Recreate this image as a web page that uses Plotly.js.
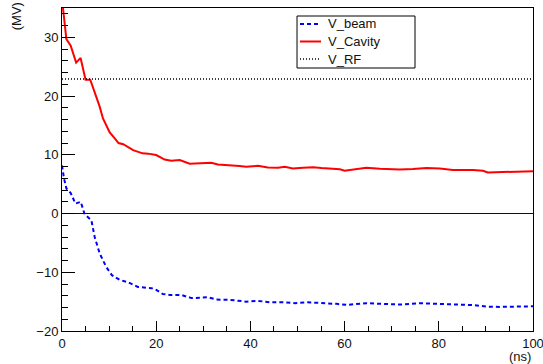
<!DOCTYPE html>
<html>
<head>
<meta charset="utf-8">
<script src="https://cdn.plot.ly/plotly-3.0.1.min.js"></script>
<style>html,body{margin:0;padding:0;background:#fff;}#chart{width:543px;height:364px;}</style>
</head>
<body>
<div id="chart"></div>
<script>
// V_Cavity (red solid)
var cavX = [0, 0.93, 1.85, 3.0, 3.95, 5.0, 6.0, 8.0, 8.7, 10.1, 11.2, 12.0, 13.0, 15.1, 17.1, 18.3, 20.0, 21.8, 23.2, 25.0, 27.1, 29.2, 31.7, 33.1, 34.9, 37.7, 39.1, 41.6, 43.7, 45.9, 47.3, 49.0, 51.2, 53.3, 55.1, 56.8, 59.0, 60.0, 61.8, 64.6, 67.5, 71.7, 74.5, 77.4, 80.2, 83.0, 87.3, 89.4, 90.4, 92.9, 95.8, 98.6, 100];
var cavY = [36.5, 29.7, 28.6, 25.7, 26.5, 22.8, 22.8, 18.2, 16.2, 13.85, 12.8, 12.0, 11.8, 10.8, 10.25, 10.2, 9.96, 9.2, 9.0, 9.1, 8.5, 8.6, 8.65, 8.37, 8.3, 8.08, 7.96, 8.13, 7.85, 7.8, 7.97, 7.69, 7.8, 7.9, 7.74, 7.62, 7.55, 7.3, 7.5, 7.8, 7.62, 7.5, 7.57, 7.74, 7.68, 7.4, 7.4, 7.28, 7.0, 7.06, 7.06, 7.2, 7.2];
// V_beam (blue dashed)
var beamX = [0, 0.42, 0.93, 1.85, 2.84, 3.97, 4.82, 5.5, 6.24, 6.94, 8.0, 9.4, 10.6, 12.25, 14.0, 16.1, 17.5, 19.0, 20.0, 21.4, 22.9, 25.3, 27.5, 28.9, 31.0, 32.8, 35.6, 38.1, 39.1, 41.6, 44.1, 46.9, 49.4, 51.9, 54.0, 56.1, 58.3, 60.4, 61.1, 64.6, 68.2, 71.7, 75.9, 79.5, 82.3, 87.3, 90.1, 92.9, 97.2, 100];
var beamY = [8.2, 6.0, 4.27, 3.5, 1.7, 2.0, -0.12, -0.7, -1.15, -4.0, -6.8, -9.1, -10.5, -11.3, -11.7, -12.5, -12.65, -12.7, -13.0, -13.7, -13.85, -13.85, -14.4, -14.3, -14.25, -14.65, -14.7, -14.9, -15.0, -14.87, -15.1, -15.1, -15.27, -15.1, -15.15, -15.3, -15.38, -15.55, -15.5, -15.27, -15.38, -15.5, -15.27, -15.38, -15.55, -15.6, -15.84, -15.9, -15.84, -15.8];
// V_RF (black dotted, constant)
var rfX = [0, 100];
var rfY = [22.9, 22.9];

var seriesNames = ['V_beam', 'V_Cavity', 'V_RF'];
var seriesColors = ['#0000ff', '#ff0000', '#000000'];
var seriesDash = ['4px,3px', 'solid', '1px,2px'];
var seriesWidth = [2, 2, 1.5];

var font = {family: '"Liberation Sans", Arial, Helvetica, sans-serif', size: 13, color: '#111'};

var xs = [beamX, cavX, rfX], ys = [beamY, cavY, rfY];
var traces = seriesNames.map(function (n, i) {
  return {x: xs[i], y: ys[i], mode: 'lines', name: n, showlegend: false,
          line: {color: seriesColors[i], width: seriesWidth[i], dash: seriesDash[i]}};
});

// legend box (drawn as shapes + text in paper coordinates)
var legX0 = 0.499, legX1 = 0.7495, legY0 = 0.8142, legY1 = 0.9752;
var legRows = [0.9505, 0.8963, 0.8421];
var shapes = [{type: 'rect', xref: 'paper', yref: 'paper', x0: legX0, x1: legX1, y0: legY0, y1: legY1,
               line: {color: '#000', width: 1}, fillcolor: '#fff', layer: 'above'}];
var annotations = [
  {text: '(ns)', xref: 'paper', yref: 'paper', x: 1, y: -0.078, xanchor: 'right', yanchor: 'middle', showarrow: false, font: font},
  {text: '(MV)', xref: 'paper', yref: 'paper', x: -0.0977, y: 1.024, xanchor: 'center', yanchor: 'top', textangle: -90, showarrow: false, font: font}
];
seriesNames.forEach(function (n, i) {
  shapes.push({type: 'line', xref: 'paper', yref: 'paper', x0: 0.5053, x1: 0.5499, y0: legRows[i], y1: legRows[i],
               line: {color: seriesColors[i], width: seriesWidth[i], dash: seriesDash[i]}, layer: 'above'});
  annotations.push({text: n, xref: 'paper', yref: 'paper', x: 0.5605, y: legRows[i], xanchor: 'left', yanchor: 'middle',
                    showarrow: false, font: font});
});

var layout = {
  width: 543, height: 364,
  margin: {l: 62, r: 10, t: 8, b: 33, pad: 0},
  paper_bgcolor: '#fff', plot_bgcolor: '#fff',
  font: font,
  showlegend: false,
  xaxis: {range: [0, 100], showgrid: false, zeroline: false, showline: true, linecolor: '#000', linewidth: 1, mirror: true,
          ticks: 'inside', ticklen: 10, tickcolor: '#000', dtick: 20, tick0: 0, tickfont: font, ticklabeloverflow: 'allow',
          minor: {dtick: 5, ticks: 'inside', ticklen: 5, tickcolor: '#000'}},
  yaxis: {range: [-20, 35], showgrid: false, zeroline: true, zerolinecolor: '#000080', zerolinewidth: 1,
          showline: true, linecolor: '#000', linewidth: 1, mirror: true,
          ticks: 'inside', ticklen: 13, tickcolor: '#000', dtick: 10, tick0: 0, tickfont: font, ticklabeloverflow: 'allow',
          minor: {dtick: 2, ticks: 'inside', ticklen: 6, tickcolor: '#000'}},
  shapes: shapes,
  annotations: annotations
};

Plotly.newPlot('chart', traces, layout, {staticPlot: true, displayModeBar: false});
</script>
</body>
</html>
